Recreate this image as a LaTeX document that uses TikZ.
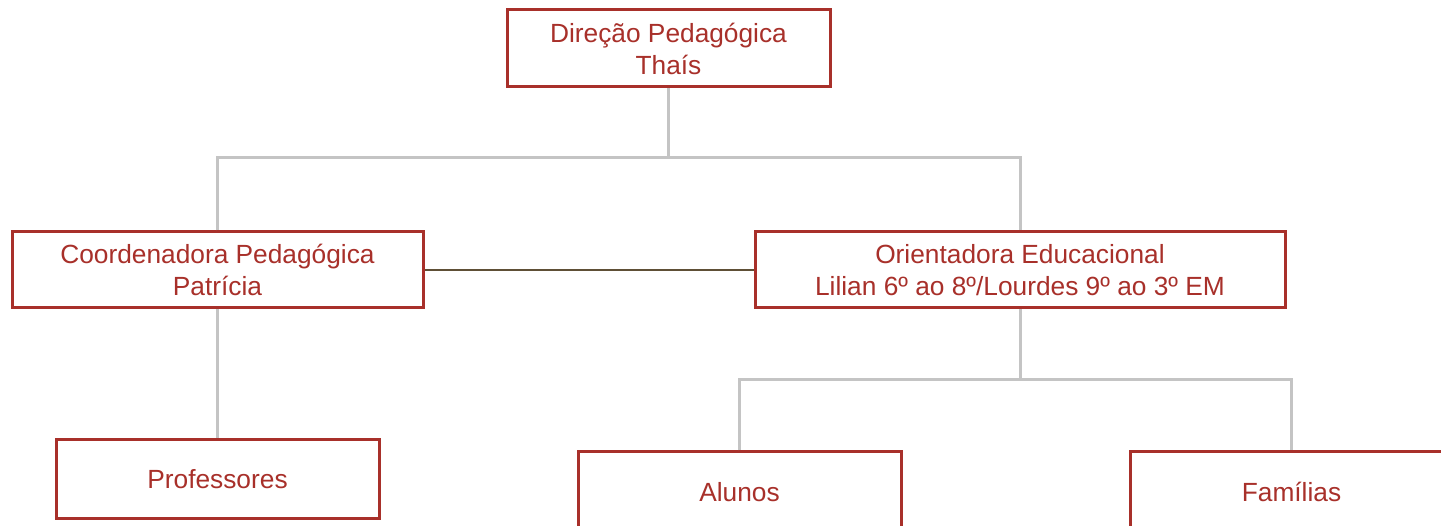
\documentclass[tikz,border=0pt]{standalone}
\usepackage{fontspec}
\setmainfont{Liberation Sans}
\definecolor{boxred}{HTML}{A8302A}
\definecolor{txtred}{HTML}{A8302A}
\definecolor{linegrey}{HTML}{C4C4C4}
\definecolor{linkbrown}{HTML}{5E4F36}
\begin{document}
\begin{tikzpicture}[x=1pt,y=-1pt,
  orgbox/.style={draw=boxred, line width=3pt, fill=white, inner sep=0pt,
    text=txtred, font=\fontsize{26.3}{32}\selectfont, align=center},
  tree/.style={draw=linegrey, line width=3pt},
  link/.style={draw=linkbrown, line width=1.5pt}]
\useasboundingbox (0,0) rectangle (1441,526);
\clip (0,0) rectangle (1441,526);
\node[orgbox, minimum width=323pt, minimum height=77pt] (dir) at (668.5,48.5) {Direção Pedagógica\\Thaís};
\node[orgbox, minimum width=411pt, minimum height=76pt] (coord) at (217.5,270) {Coordenadora Pedagógica\\Patrícia};
\node[orgbox, minimum width=530pt, minimum height=76pt] (orient) at (1020,270) {Orientadora Educacional\\Lilian 6º ao 8º/Lourdes 9º ao 3º EM};
\node[orgbox, minimum width=323pt, minimum height=78pt] (prof) at (217.5,479) {Professores};
\node[orgbox, minimum width=323pt, minimum height=80pt] (alun) at (739.5,492) {Alunos};
\node[orgbox, minimum width=323pt, minimum height=80pt] (fam) at (1291.5,492) {Famílias};
\coordinate (j1) at (668.5,158);
\coordinate (j2) at (1020,380);
\draw[tree] (dir.south) -- (j1);
\draw[tree] (coord.north) -- (coord.north |- j1) -- (orient.north |- j1) -- (orient.north);
\draw[tree] (coord.south) -- (prof.north);
\draw[tree] (orient.south) -- (j2);
\draw[tree] (alun.north) -- (alun.north |- j2) -- (fam.north |- j2) -- (fam.north);
\draw[link] (coord.east) -- (orient.west);
\end{tikzpicture}
\end{document}
